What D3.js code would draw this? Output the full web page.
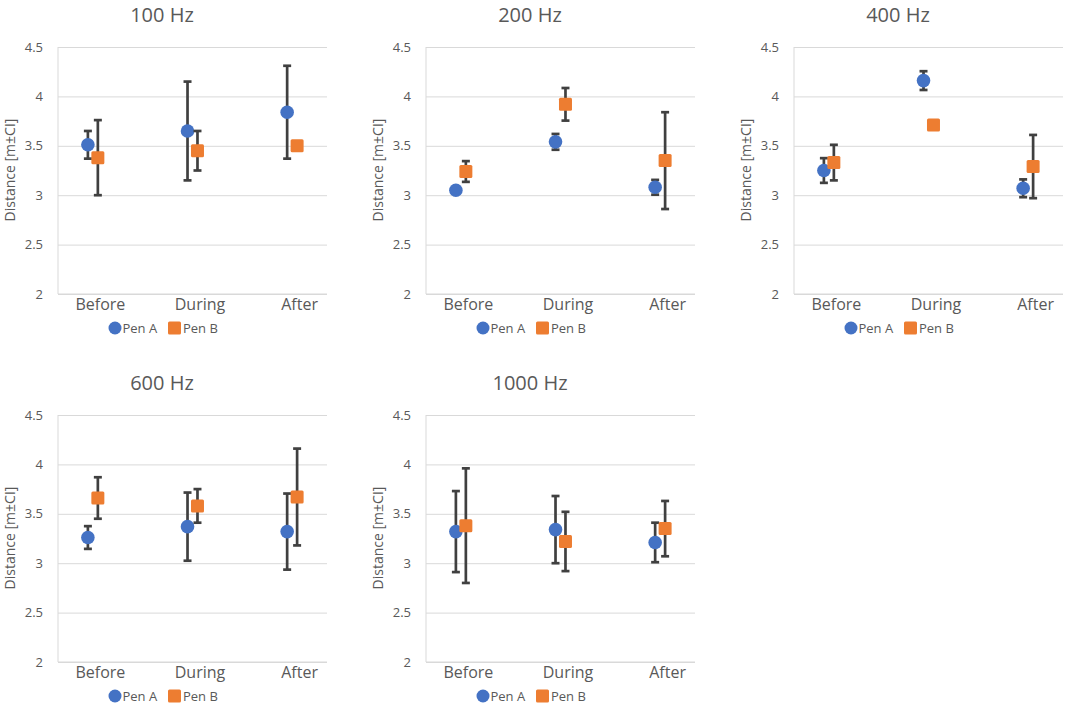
<html>
  <head>
    <style>
      body { margin: 0; background: #fff; }
      text { font-family: "Open Sans", "Noto Sans", sans-serif; fill: #595959; }
      .grid line { stroke: #d9d9d9; stroke-width: 1; }
      .axis path, .axis line { stroke: none; }
      .frame { stroke: #d9d9d9; stroke-width: 1; fill: none; }
      .err { stroke: #404040; stroke-width: 2.7; fill: none; }
    </style>
    <script src="https://cdnjs.cloudflare.com/ajax/libs/d3/7.8.5/d3.min.js"></script>
  </head>
  <body>
    <script>
      // chart data
      var panels = ["100 Hz", "200 Hz", "400 Hz", "600 Hz", "1000 Hz"];
      var phases = ["Before", "During", "After"];
      var series = ["Pen A", "Pen B"];
      var yTicks = [2, 2.5, 3, 3.5, 4, 4.5];

      // means per panel: before, during, after
      var penAMean = [
        [3.51, 3.65, 3.84],
        [3.05, 3.54, 3.08],
        [3.25, 4.16, 3.07],
        [3.26, 3.37, 3.32],
        [3.32, 3.34, 3.21]
      ];
      var penACI = [
        [0.14, 0.50, 0.47],
        [0.00, 0.08, 0.075],
        [0.125, 0.095, 0.09],
        [0.115, 0.345, 0.385],
        [0.41, 0.34, 0.20]
      ];
      var penBMean = [
        [3.38, 3.45, 3.50],
        [3.24, 3.92, 3.35],
        [3.33, 3.71, 3.29],
        [3.66, 3.58, 3.67],
        [3.38, 3.22, 3.35]
      ];
      var penBCI = [
        [0.38, 0.20, 0.00],
        [0.105, 0.165, 0.49],
        [0.18, 0.00, 0.32],
        [0.21, 0.17, 0.49],
        [0.58, 0.30, 0.28]
      ];

      var colors = ["#4472C4", "#ED7D31"];

      var svg = d3.select("body").append("svg")
        .attr("width", 1065)
        .attr("height", 705);

      // plot box inside one panel
      var pLeft = 58, pRight = 327, pTop = 47, pBottom = 294;
      var x = d3.scaleLinear().domain([0.7, 3.4]).range([pLeft, pRight]);
      var y = d3.scaleLinear().domain([2, 4.5]).range([pBottom, pTop]);

      panels.forEach(function(title, p) {
        var g = svg.append("g")
          .attr("transform", "translate(" + (368 * (p % 3)) + "," + (368 * Math.floor(p / 3)) + ")");

        // gridlines
        g.append("g").attr("class", "grid")
          .attr("transform", "translate(" + pLeft + ",0)")
          .call(d3.axisLeft(y).tickValues(yTicks).tickSize(-(pRight - pLeft)).tickFormat(""))
          .select(".domain").remove();

        g.append("line").attr("class", "frame")
          .attr("x1", pLeft).attr("x2", pLeft).attr("y1", pTop).attr("y2", pBottom);
        g.append("line").attr("class", "frame")
          .attr("x1", pLeft).attr("x2", pRight).attr("y1", pBottom).attr("y2", pBottom);

        // y axis labels
        var ya = g.append("g").attr("class", "axis")
          .attr("transform", "translate(" + pLeft + ",0)")
          .call(d3.axisLeft(y).tickValues(yTicks).tickSize(0).tickPadding(15)
            .tickFormat(d3.format("")));
        ya.selectAll("text").style("font-size", "13px").style("fill", "#595959");

        // x axis labels
        var xa = g.append("g").attr("class", "axis")
          .attr("transform", "translate(0," + pBottom + ")")
          .call(d3.axisBottom(x).tickValues([1.12, 2.12, 3.12]).tickSize(0).tickPadding(5)
            .tickFormat(function(d, i) { return phases[i]; }));
        xa.selectAll("text").style("font-size", "16px").style("fill", "#595959");

        g.append("text")
          .attr("x", pLeft + 104).attr("y", 22)
          .attr("text-anchor", "middle")
          .style("font-size", "20px")
          .text(title);

        g.append("text")
          .attr("transform", "translate(15,170) rotate(-90)")
          .attr("text-anchor", "middle")
          .style("font-size", "14px")
          .text("Distance [m\u00b1CI]");

        var sets = [
          { mean: penAMean[p], ci: penACI[p], off: 1 },
          { mean: penBMean[p], ci: penBCI[p], off: 1.1 }
        ];

        sets.forEach(function(s, k) {
          var pts = s.mean.map(function(m, i) { return { x: i + s.off, m: m, c: s.ci[i] }; });
          var bars = g.append("g").selectAll("g").data(pts.filter(function(d) { return d.c > 0; }))
            .enter().append("g").attr("class", "err");
          bars.append("line")
            .attr("x1", function(d) { return x(d.x); }).attr("x2", function(d) { return x(d.x); })
            .attr("y1", function(d) { return y(d.m - d.c); }).attr("y2", function(d) { return y(d.m + d.c); });
          [-1, 1].forEach(function(sg) {
            bars.append("line")
              .attr("x1", function(d) { return x(d.x) - 4; }).attr("x2", function(d) { return x(d.x) + 4; })
              .attr("y1", function(d) { return y(d.m + sg * d.c); }).attr("y2", function(d) { return y(d.m + sg * d.c); });
          });

          if (k === 0) {
            g.append("g").selectAll("circle").data(pts).enter().append("circle")
              .attr("cx", function(d) { return x(d.x); })
              .attr("cy", function(d) { return y(d.m); })
              .attr("r", 6.8)
              .attr("fill", colors[0]);
          } else {
            g.append("g").selectAll("rect").data(pts).enter().append("rect")
              .attr("x", function(d) { return x(d.x) - 6.5; })
              .attr("y", function(d) { return y(d.m) - 6.5; })
              .attr("width", 13).attr("height", 13).attr("rx", 1.5)
              .attr("fill", colors[1]);
          }
        });

        // legend
        var lg = g.append("g");
        lg.append("circle").attr("cx", 115).attr("cy", 328).attr("r", 6.5).attr("fill", colors[0]);
        lg.append("text").attr("x", 122.5).attr("y", 333).style("font-size", "13px").text(series[0]);
        lg.append("rect").attr("x", 168).attr("y", 321.5).attr("width", 13).attr("height", 13)
          .attr("rx", 1.5).attr("fill", colors[1]);
        lg.append("text").attr("x", 183).attr("y", 333).style("font-size", "13px").text(series[1]);
      });
    </script>
  </body>
</html>
